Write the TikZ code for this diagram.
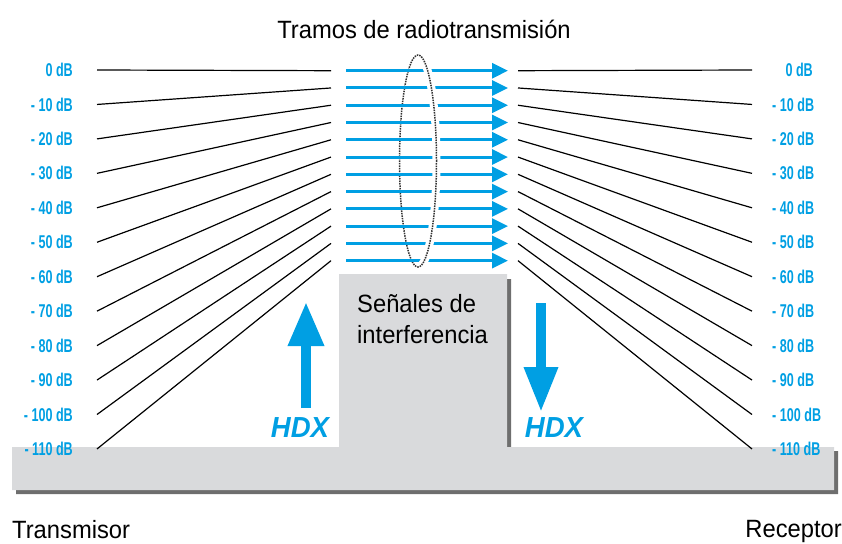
\documentclass[tikz,border=0pt]{standalone}
\usepackage{fontspec}
\setmainfont{Liberation Sans}[FakeStretch=0.95]
\newfontfamily\dbfont{Liberation Sans}[FakeStretch=0.68]
\newfontfamily\hdxfont{Liberation Sans}[FakeStretch=0.95]
\usetikzlibrary{arrows.meta,shapes.geometric}
\definecolor{sigblue}{HTML}{009FE3}
\definecolor{slabgray}{HTML}{D9DADC}
\definecolor{shadegray}{HTML}{6E6E6E}

\begin{document}
\begin{tikzpicture}[x=1pt,y=-1pt,
  db/.style={text=sigblue, inner sep=0pt, font=\dbfont\bfseries\fontsize{18.5}{18.5}\selectfont},
  lvl/.style={line width=1.2pt, black},
  sig/.style={line width=3pt, sigblue, -{Triangle[length=16pt,width=15pt]}},
  hdxarrow/.style={line width=9.5pt, sigblue, -{Triangle[length=44pt,width=34pt]}},
  hdx/.style={text=sigblue, inner sep=0pt, font=\hdxfont\bfseries\itshape\fontsize{29}{29}\selectfont},
  lbl/.style={inner sep=0pt, font=\fontsize{25}{25}\selectfont},
  ring/.style={ellipse, draw=black!80, densely dotted, line width=1.5pt, minimum width=37pt, minimum height=212pt},
]
\useasboundingbox (0,0) rectangle (842,543);
% ground slab with the interference block, and its shadow
\fill[shadegray] (16,451) -- (343,451) -- (343,279) -- (511,279) -- (511,451) -- (838,451) -- (838,494) -- (16,494) -- cycle;
\fill[slabgray] (12,447) -- (339,447) -- (339,274) -- (507,274) -- (507,447) -- (834,447) -- (834,490) -- (12,490) -- cycle;
\node[lbl, anchor=base west, align=left] (noise) at (357,343) {Señales de\\[6pt]interferencia};
% level points
\foreach \i in {0,...,11} {
  \pgfmathsetmacro\yl{70+34.45*\i}
  \pgfmathsetmacro\ya{70.7+17.27*\i}
  \coordinate (tx\i) at (97,\yl);
  \coordinate (ti\i) at (331,\ya);
  \coordinate (so\i) at (346,\ya);
  \coordinate (se\i) at (508,\ya);
  \coordinate (ri\i) at (518,\ya);
  \coordinate (rx\i) at (752,\yl);
}
% dotted ring round the path (back half)
\node[ring] (path) at (418,161) {};
% level lines and the radio path
\foreach \i in {0,...,11} {
  \draw[lvl] (tx\i) -- (ti\i);
  \draw[lvl] (ri\i) -- (rx\i);
  \draw[sig] (so\i) -- (se\i);
  \node[db, anchor=east] (ldb\i) at (tx\i) [xshift=-24pt] {\ifnum\i=0 0 dB\else - \i0 dB\fi};
}
\foreach \i in {1,...,11}
  \node[db, anchor=west] (rdb\i) at (rx\i) [xshift=20pt] {- \i0 dB};
\node[db, anchor=east] (rdb0) at (rx0) [xshift=61pt] {0 dB};
% front half of the ring
\begin{scope}
  \clip (418,40) rectangle (460,280);
  \draw[white, line width=8pt] (path.center) ellipse [x radius=18.5, y radius=106];
  \node[ring] at (path.center) {};
\end{scope}
% HDX arrows
\coordinate (upfoot) at (306,408);
\coordinate (uptip) at (306,302);
\coordinate (dntop) at (541,303);
\coordinate (dntip) at (541,412);
\draw[hdxarrow] (upfoot) -- (uptip);
\draw[hdxarrow, -{Triangle[length=45pt,width=32pt]}] (dntop) -- (dntip);
\node[hdx] (hdxtx) at (300,428) {HDX};
\node[hdx] (hdxrx) at (554,428) {HDX};
% titles
\node[lbl, anchor=base] (title) at (424,38) {Tramos de radiotransmisión};
\node[lbl, anchor=base west] (tx) at (12,538) {Transmisor};
\node[lbl, anchor=base east] (rx) at (842,537) {Receptor};
\end{tikzpicture}
\end{document}
